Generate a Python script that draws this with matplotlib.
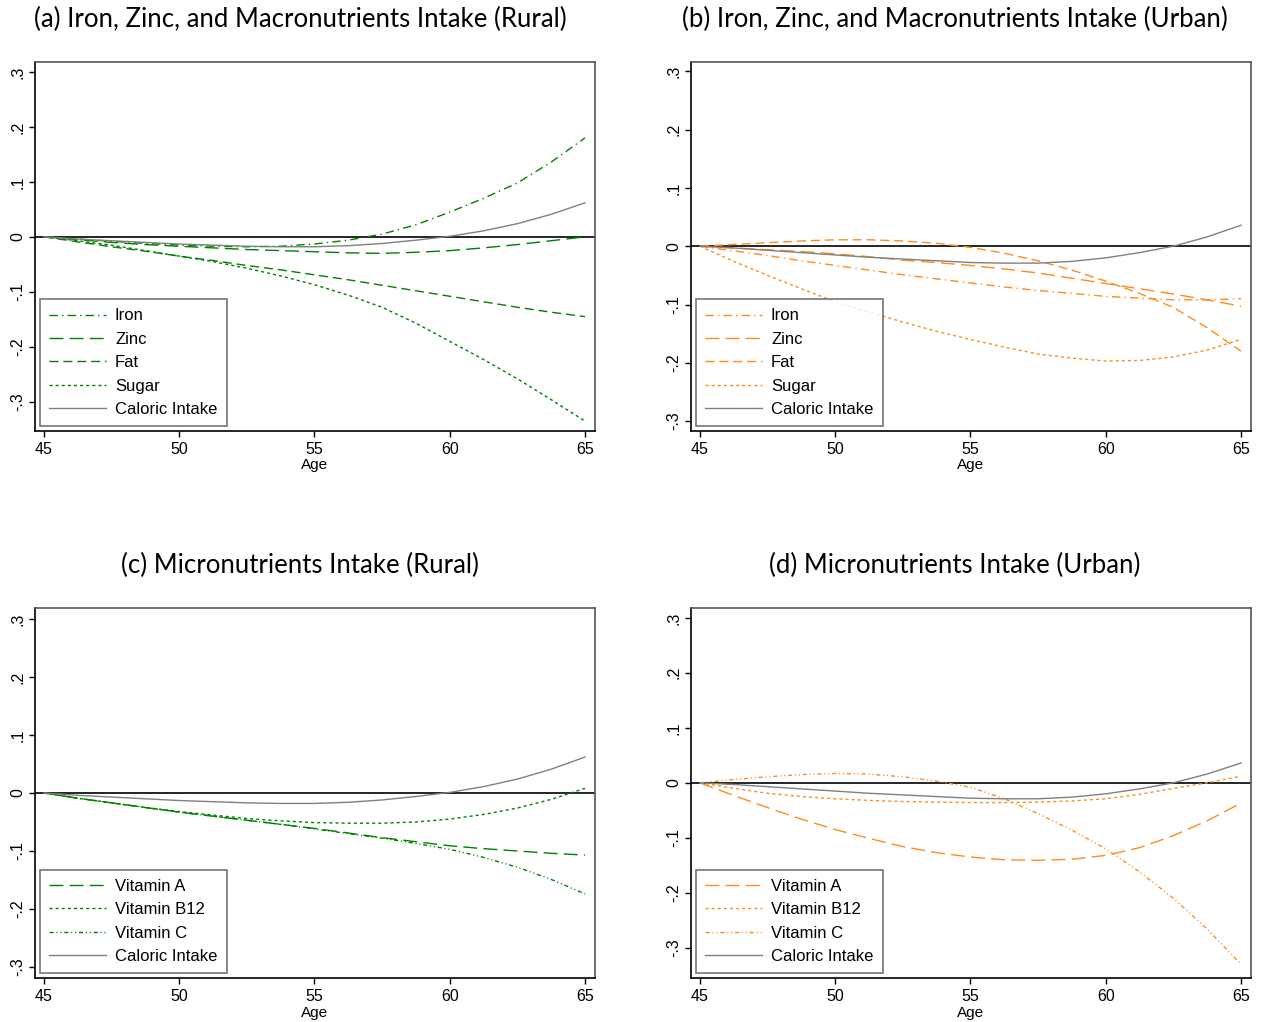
import matplotlib
matplotlib.use("Agg")
import matplotlib.pyplot as plt

plt.rcParams["font.family"] = ["Liberation Sans", "DejaVu Sans"]
plt.rcParams["lines.scale_dashes"] = False

# ── Data ─────────────────────────────────────────────────────
ages = [45, 46.25, 47.5, 48.75, 50, 51.25, 52.5, 53.75, 55,
        56.25, 57.5, 58.75, 60, 61.25, 62.5, 63.75, 65]

# rural, panel (a)
iron_rural  = [0, -0.004, -0.008, -0.012, -0.015, -0.017, -0.018, -0.017, -0.013,
               -0.006, 0.005, 0.022, 0.045, 0.070, 0.098, 0.136, 0.180]
zinc_rural  = [0, -0.005, -0.010, -0.014, -0.017, -0.020, -0.023, -0.025, -0.027,
               -0.029, -0.030, -0.028, -0.025, -0.020, -0.014, -0.007, 0.000]
fat_rural   = [0, -0.009, -0.018, -0.026, -0.035, -0.043, -0.052, -0.060, -0.069,
               -0.078, -0.088, -0.098, -0.108, -0.118, -0.128, -0.137, -0.145]
sugar_rural = [0, -0.007, -0.015, -0.025, -0.035, -0.045, -0.057, -0.071, -0.087,
               -0.106, -0.128, -0.157, -0.190, -0.223, -0.258, -0.296, -0.335]
cal_rural   = [0, -0.004, -0.007, -0.010, -0.013, -0.015, -0.017, -0.018, -0.018,
               -0.016, -0.012, -0.006, 0.001, 0.011, 0.024, 0.041, 0.062]

# urban, panel (b)
iron_urban  = [0, -0.008, -0.016, -0.025, -0.033, -0.041, -0.049, -0.056, -0.063,
               -0.070, -0.076, -0.081, -0.086, -0.089, -0.092, -0.092, -0.090]
zinc_urban  = [0, -0.003, -0.006, -0.009, -0.013, -0.018, -0.024, -0.028, -0.033,
               -0.039, -0.046, -0.055, -0.064, -0.073, -0.082, -0.092, -0.103]
fat_urban   = [0, 0.003, 0.006, 0.009, 0.011, 0.011, 0.009, 0.005, -0.002,
               -0.012, -0.025, -0.041, -0.060, -0.081, -0.105, -0.140, -0.180]
sugar_urban = [0, -0.026, -0.050, -0.073, -0.095, -0.113, -0.130, -0.146, -0.160,
               -0.173, -0.185, -0.192, -0.197, -0.196, -0.190, -0.178, -0.160]
cal_urban   = [0, -0.003, -0.007, -0.011, -0.015, -0.019, -0.022, -0.025, -0.028,
               -0.029, -0.029, -0.026, -0.020, -0.011, 0.000, 0.016, 0.036]

# rural micronutrients, panel (c)
vita_rural  = [0, -0.009, -0.017, -0.025, -0.033, -0.040, -0.047, -0.054, -0.061,
               -0.069, -0.077, -0.084, -0.091, -0.096, -0.100, -0.104, -0.107]
vitb_rural  = [0, -0.009, -0.017, -0.025, -0.032, -0.038, -0.044, -0.048, -0.051,
               -0.052, -0.052, -0.050, -0.045, -0.037, -0.026, -0.011, 0.008]
vitc_rural  = [0, -0.009, -0.017, -0.025, -0.033, -0.040, -0.047, -0.054, -0.062,
               -0.070, -0.078, -0.087, -0.097, -0.111, -0.128, -0.149, -0.174]

# urban micronutrients, panel (d)
vita_urban  = [0, -0.023, -0.045, -0.066, -0.085, -0.101, -0.116, -0.127, -0.135,
               -0.140, -0.141, -0.139, -0.132, -0.118, -0.096, -0.069, -0.037]
vitb_urban  = [0, -0.010, -0.019, -0.025, -0.029, -0.032, -0.034, -0.035, -0.036,
               -0.036, -0.035, -0.033, -0.029, -0.021, -0.010, 0.000, 0.012]
vitc_urban  = [0, 0.006, 0.011, 0.015, 0.017, 0.016, 0.011, 0.003, -0.008,
               -0.029, -0.056, -0.086, -0.120, -0.162, -0.210, -0.266, -0.330]

xticks = [45, 50, 55, 60, 65]
yticks = [-0.3, -0.2, -0.1, 0, 0.1, 0.2, 0.3]
ytick_labels = ["-.3", "-.2", "-.1", "0", ".1", ".2", ".3"]

GREEN  = "#008000"
ORANGE = "#ff8c1a"
GRAY   = "#808080"

# Stata-like line patterns (in points)
DASH_DOT     = (0, (6, 3, 1, 3))
LONG_DASH    = (0, (10, 4.5))
DASH         = (0, (6.5, 3.5))
SHORT_DASH   = (0, (2.2, 2.2))
DASH_DOT_DOT = (0, (3, 2, 0.8, 2, 0.8, 2))


def setup_axes(ax, ylim):
    ax.set_xlim(44.67, 65.37)
    ax.set_ylim(*ylim)
    ax.set_xticks(xticks)
    ax.set_yticks(yticks)
    ax.set_yticklabels(ytick_labels)
    ax.tick_params(axis="both", labelsize=11.5, length=4, width=1, color="black")
    ax.tick_params(axis="y", labelrotation=90, pad=3)
    for lbl in ax.get_yticklabels():
        lbl.set_va("center")
    ax.tick_params(axis="x", pad=4)
    ax.set_xlabel("Age", fontsize=11, labelpad=1)
    ax.axhline(0, color="black", lw=1.2, zorder=1)
    for side in ("left", "bottom"):
        ax.spines[side].set_color("black")
        ax.spines[side].set_linewidth(1.2)
    for side in ("top", "right"):
        ax.spines[side].set_color("#555555")
        ax.spines[side].set_linewidth(1.2)


def add_legend(ax):
    leg = ax.legend(loc="lower left", fontsize=12, frameon=True, fancybox=False,
                    handlelength=3.4, handletextpad=0.55, labelspacing=0.5,
                    borderpad=0.55, borderaxespad=0.3)
    leg.get_frame().set_edgecolor("#555555")
    leg.get_frame().set_linewidth(1.2)


fig = plt.figure(figsize=(12.62, 10.22), dpi=100)
W, H = 1262, 1022


def make_axes(left, top, right, bottom):
    return fig.add_axes([left / W, 1 - bottom / H, (right - left) / W, (bottom - top) / H])


ax_a = make_axes(35, 62, 595, 431)
ax_b = make_axes(691, 62, 1251, 431)
ax_c = make_axes(35, 608, 595, 978)
ax_d = make_axes(691, 608, 1251, 978)

# ── (a) rural macronutrients ─────────────────────────────────
ax_a.plot(ages, iron_rural, color=GREEN, lw=1, ls=DASH_DOT, label="Iron")
ax_a.plot(ages, zinc_rural, color=GREEN, lw=1, ls=LONG_DASH, label="Zinc")
ax_a.plot(ages, fat_rural, color=GREEN, lw=1, ls=DASH, label="Fat")
ax_a.plot(ages, sugar_rural, color=GREEN, lw=1, ls=SHORT_DASH, label="Sugar")
ax_a.plot(ages, cal_rural, color=GRAY, lw=1, label="Caloric Intake")
setup_axes(ax_a, (-0.353, 0.318))
add_legend(ax_a)

# ── (b) urban macronutrients ─────────────────────────────────
ax_b.plot(ages, iron_urban, color=ORANGE, lw=1, ls=DASH_DOT, label="Iron")
ax_b.plot(ages, zinc_urban, color=ORANGE, lw=1, ls=LONG_DASH, label="Zinc")
ax_b.plot(ages, fat_urban, color=ORANGE, lw=1, ls=DASH, label="Fat")
ax_b.plot(ages, sugar_urban, color=ORANGE, lw=1, ls=SHORT_DASH, label="Sugar")
ax_b.plot(ages, cal_urban, color=GRAY, lw=1, label="Caloric Intake")
setup_axes(ax_b, (-0.317, 0.316))
add_legend(ax_b)

# ── (c) rural micronutrients ─────────────────────────────────
ax_c.plot(ages, vita_rural, color=GREEN, lw=1, ls=LONG_DASH, label="Vitamin A")
ax_c.plot(ages, vitb_rural, color=GREEN, lw=1, ls=SHORT_DASH, label="Vitamin B12")
ax_c.plot(ages, vitc_rural, color=GREEN, lw=1, ls=DASH_DOT_DOT, label="Vitamin C")
ax_c.plot(ages, cal_rural, color=GRAY, lw=1, label="Caloric Intake")
setup_axes(ax_c, (-0.319, 0.319))
add_legend(ax_c)

# ── (d) urban micronutrients ─────────────────────────────────
ax_d.plot(ages, vita_urban, color=ORANGE, lw=1, ls=LONG_DASH, label="Vitamin A")
ax_d.plot(ages, vitb_urban, color=ORANGE, lw=1, ls=SHORT_DASH, label="Vitamin B12")
ax_d.plot(ages, vitc_urban, color=ORANGE, lw=1, ls=DASH_DOT_DOT, label="Vitamin C")
ax_d.plot(ages, cal_urban, color=GRAY, lw=1, label="Caloric Intake")
setup_axes(ax_d, (-0.355, 0.318))
add_legend(ax_d)

# ── panel titles ─────────────────────────────────────────────
title_kw = dict(fontsize=18.5, ha="center", va="center", family=["Lato", "DejaVu Sans"])
fig.text(300 / W, 1 - 19 / H, "(a) Iron, Zinc, and Macronutrients Intake (Rural)", **title_kw)
fig.text(955 / W, 1 - 19 / H, "(b) Iron, Zinc, and Macronutrients Intake (Urban)", **title_kw)
fig.text(300 / W, 1 - 565 / H, "(c) Micronutrients Intake (Rural)", **title_kw)
fig.text(955 / W, 1 - 565 / H, "(d) Micronutrients Intake (Urban)", **title_kw)

fig.savefig("out.png", dpi=100)
